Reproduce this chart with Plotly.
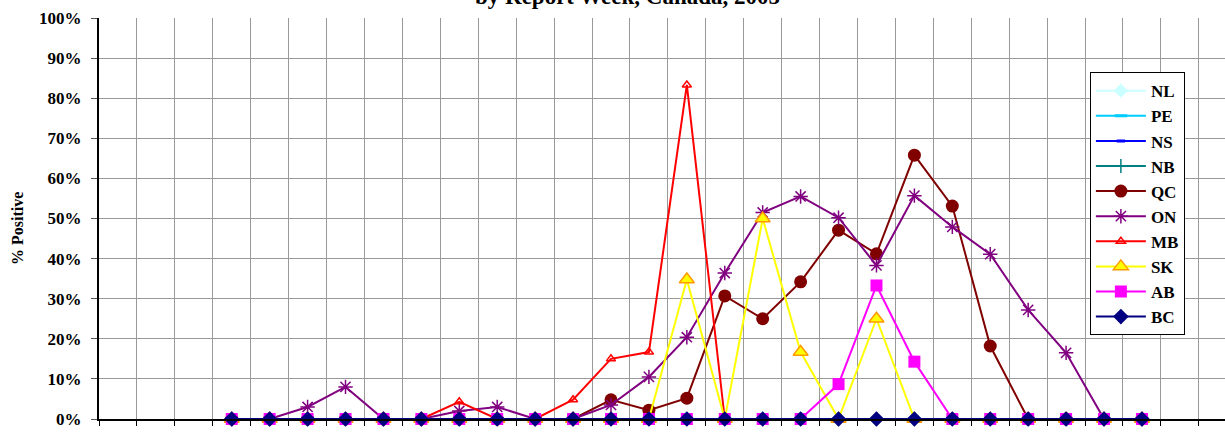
import plotly.graph_objects as go

# Report weeks (category axis); labels fall below the visible area
weeks = [str(w) for w in list(range(35, 53)) + list(range(1, 13))]

N = None
nl = [N, N, N] + [0] * 25 + [N, N]
pe = [N, N, N] + [0] * 25 + [N, N]
ns = [N, N, N] + [0] * 25 + [N, N]
nb = [N, N, N] + [0] * 25 + [N, N]
qc = [N, N, N, 0, 0, 0, 0, 0, 0, 0, 0, 0, 0, 4.8, 2.2, 5.2, 30.7, 25.0, 34.2, 47.1, 41.2, 65.8, 53.1, 18.2, 0, 0, 0, 0, N, N]
on = [N, N, N, 0, 0, 3.0, 8.0, 0, 0, 2.0, 3.0, 0, 0, 3.5, 10.5, 20.4, 36.4, 51.5, 55.5, 50.2, 38.3, 55.7, 47.9, 41.1, 27.2, 16.5, 0, 0, N, N]
mb = [N, N, N, 0, 0, 0, 0, 0, 0, 4.3, 0, 0, 4.8, 15.0, 16.7, 83.3, 0, 0, 0, 0, 0, 0, 0, 0, 0, 0, 0, 0, N, N]
sk = [N, N, N, 0, 0, 0, 0, 0, 0, 0, 0, 0, 0, 0, 0, 34.8, 0, 50.0, 16.7, 0, 25.0, 0, 0, 0, 0, 0, 0, 0, N, N]
ab = [N, N, N, 0, 0, 0, 0, 0, 0, 0, 0, 0, 0, 0, 0, 0, 0, 0, 0, 8.7, 33.3, 14.3, 0, 0, 0, 0, 0, 0, N, N]
bc = [N, N, N] + [0] * 25 + [N, N]

y_ticks = list(range(0, 101, 10))
y_labels = [f"{v}%" for v in y_ticks]

FONT = "Liberation Serif, Times New Roman, serif"

series = [
    ("NL", nl, "#CCFFFF", dict(symbol="diamond", size=11, color="#CCFFFF")),
    ("PE", pe, "#00CCFF", dict(symbol="line-ew", size=9, line=dict(width=3, color="#00CCFF"))),
    ("NS", ns, "#0000FF", dict(symbol="line-ew", size=6, line=dict(width=3, color="#0000FF"))),
    ("NB", nb, "#008080", dict(symbol="line-ns", size=10, line=dict(width=1.5, color="#008080"))),
    ("QC", qc, "#800000", dict(symbol="circle", size=13, color="#800000")),
    ("ON", on, "#800080", dict(symbol="asterisk-open", size=12, line=dict(width=1.5, color="#800080"))),
    ("MB", mb, "#FF0000", dict(symbol="triangle-up-open", size=8, color="#FF0000", line=dict(width=1.5, color="#FF0000"))),
    ("SK", sk, "#FFFF00", dict(symbol="triangle-up", size=13, color="#FFFF00", line=dict(width=1.5, color="#FF9900"))),
    ("AB", ab, "#FF00FF", dict(symbol="square", size=12, color="#FF00FF")),
    ("BC", bc, "#000080", dict(symbol="diamond", size=12, color="#000080")),
]

fig = go.Figure()
for name, vals, col, mk in series:
    fig.add_trace(go.Scatter(
        x=weeks, y=vals, name=name, mode="lines+markers",
        line=dict(color=col, width=2), marker=mk, cliponaxis=False,
        connectgaps=False,
    ))

fig.update_layout(
    width=1225, height=432,
    margin=dict(l=99, r=0, t=18, b=13, autoexpand=False),
    paper_bgcolor="white", plot_bgcolor="white",
    font=dict(family=FONT, color="black", size=17, weight="bold"),
    showlegend=True,
    legend=dict(
        x=0.88, y=0.865, xanchor="left", yanchor="top",
        bgcolor="white", bordercolor="black", borderwidth=1,
        font=dict(family=FONT, size=17, weight="bold"),
        itemwidth=50,
    ),
    xaxis=dict(
        type="category", categoryorder="array", categoryarray=weeks,
        range=[-0.5, 29.19], tickson="boundaries",
        showgrid=True, gridcolor="#999999", gridwidth=1,
        showticklabels=False, ticks="outside", ticklen=5, tickcolor="black",
        showline=True, linecolor="black", linewidth=1.5,
        zeroline=False,
    ),
    yaxis=dict(
        range=[0, 100], tickmode="array", tickvals=y_ticks, ticktext=y_labels,
        showgrid=True, gridcolor="#999999", gridwidth=1,
        ticks="outside", ticklen=6, tickcolor="#555555",
        showline=True, linecolor="black", linewidth=2,
        zeroline=False,
        tickfont=dict(family=FONT, size=17, weight="bold"),
        ticklabelstandoff=6,
    ),
)

fig.add_annotation(
    text="% Positive", xref="paper", yref="paper",
    x=-0.0719, y=0.474, xanchor="center", yanchor="middle", showarrow=False,
    textangle=-90, font=dict(family=FONT, size=16, weight="bold"),
)

fig.add_annotation(
    text="by Report Week, Canada, 2005", xref="paper", yref="paper",
    x=0.469, y=1.054, xanchor="center", yanchor="middle", showarrow=False,
    font=dict(family=FONT, size=23, weight="bold"),
)

fig.write_html("out.html", config={"displayModeBar": False},
               post_script="document.body.style.margin='0';")
